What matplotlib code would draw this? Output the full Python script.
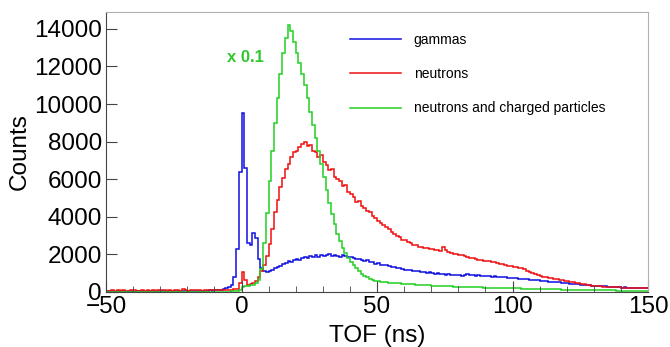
import numpy as np
import matplotlib
matplotlib.use('Agg')
import matplotlib.pyplot as plt
from matplotlib.ticker import MultipleLocator

plt.rcParams['font.family'] = ['Liberation Sans', 'DejaVu Sans']

# ---------------------------------------------------------------------------
# TOF histograms, 1 ns bins from -50 to 150 ns
BIN_LO, BIN_HI = -50, 150

gammas = [
    20, 10, 30, 10, 20, 0, 20, 10, 30, 20,                        # -50
    10, 20, 30, 20, 10, 20, 30, 20, 10, 30,                       # -40
    20, 30, 10, 20, 30, 20, 40, 20, 30, 20,                       # -30
    30, 40, 30, 40, 50, 40, 60, 50, 70, 60,                       # -20
    80, 90, 110, 140, 180, 250, 380, 800, 2300, 6400,             # -10
    9500, 6600, 2600, 2500, 3150, 2850, 1750, 1250, 1120, 1030,   # 0
    1080, 1150, 1240, 1330, 1390, 1480, 1540, 1620, 1590, 1700,   # 10
    1760, 1690, 1800, 1850, 1780, 1880, 1840, 1930, 1870, 1960,   # 20
    1890, 1950, 2000, 1900, 1970, 1910, 1860, 1940, 1880, 1830,   # 30
    1860, 1780, 1740, 1760, 1680, 1650, 1700, 1590, 1560, 1500,   # 40
    1520, 1440, 1400, 1420, 1350, 1310, 1290, 1250, 1270, 1200,   # 50
    1180, 1150, 1170, 1100, 1080, 1110, 1050, 1030, 1000, 1040,   # 60
    990, 960, 980, 930, 950, 900, 920, 880, 910, 870,             # 70
    890, 860, 900, 940, 910, 880, 850, 870, 830, 850,             # 80
    820, 840, 800, 810, 790, 770, 800, 760, 740, 750,             # 90
    720, 730, 690, 700, 670, 660, 640, 620, 630, 600,             # 100
    590, 570, 580, 540, 530, 520, 500, 490, 470, 460,             # 110
    450, 430, 420, 400, 390, 370, 360, 350, 330, 320,             # 120
    310, 300, 290, 280, 280, 260, 250, 250, 240, 230,             # 130
    220, 230, 210, 200, 210, 190, 180, 190, 170, 170,             # 140
]

neutrons = [
    60, 40, 80, 50, 70, 40, 90, 60, 50, 70,                       # -50
    80, 50, 60, 90, 40, 70, 60, 100, 50, 80,                      # -40
    70, 110, 60, 80, 50, 90, 70, 60, 120, 80,                     # -30
    60, 90, 70, 80, 100, 60, 80, 90, 70, 100,                     # -20
    80, 90, 70, 100, 90, 110, 100, 130, 160, 480,                 # -10
    1060, 640, 380, 400, 470, 560, 780, 1080, 1420, 1900,         # 0
    2550, 3350, 4250, 4900, 5600, 6050, 6550, 6800, 7150, 7450,   # 10
    7500, 7700, 7850, 7980, 7750, 7800, 7500, 7420, 7150, 7300,   # 20
    6900, 6750, 6500, 6550, 6100, 6000, 5880, 5650, 5700, 5300,   # 30
    5200, 5050, 4800, 4850, 4550, 4480, 4300, 4250, 4050, 3920,   # 40
    3780, 3650, 3550, 3420, 3350, 3180, 3100, 2950, 2900, 2780,   # 50
    2750, 2650, 2600, 2500, 2480, 2400, 2380, 2320, 2310, 2280,   # 60
    2300, 2240, 2210, 2190, 2380, 2210, 2130, 2080, 2030, 1990,   # 70
    1960, 1930, 1880, 1850, 1790, 1770, 1720, 1700, 1690, 1640,   # 80
    1660, 1620, 1590, 1600, 1540, 1500, 1460, 1420, 1380, 1350,   # 90
    1310, 1290, 1260, 1240, 1190, 1120, 1060, 990, 930, 890,      # 100
    850, 800, 780, 740, 730, 700, 680, 640, 610, 570,             # 110
    550, 520, 500, 470, 450, 410, 390, 360, 350, 320,             # 120
    300, 290, 280, 270, 260, 250, 250, 240, 230, 230,             # 130
    220, 220, 210, 200, 200, 190, 180, 180, 170, 170,             # 140
]

# already multiplied by 0.1
neutrons_charged = [
    0, 0, 0, 0, 0, 0, 0, 0, 0, 0,                                 # -50
    0, 0, 0, 0, 0, 0, 0, 0, 0, 0,                                 # -40
    0, 0, 0, 0, 0, 0, 0, 0, 0, 0,                                 # -30
    0, 0, 0, 0, 0, 0, 0, 10, 0, 0,                                # -20
    0, 0, 0, 10, 10, 10, 20, 30, 40, 110,                         # -10
    250, 280, 300, 330, 380, 450, 620, 1200, 2600, 4200,          # 0
    5900, 7500, 9000, 10300, 11600, 12700, 13500, 14200, 13900, 13300,  # 10
    12700, 12200, 11600, 11000, 10300, 9600, 8900, 8200, 7500, 6800,   # 20
    6100, 5400, 4750, 4150, 3600, 3100, 2700, 2350, 2050, 1800,   # 30
    1600, 1400, 1240, 1100, 960, 850, 760, 690, 630, 590,         # 40
    550, 530, 510, 490, 480, 470, 460, 450, 440, 430,             # 50
    420, 410, 400, 390, 380, 370, 360, 350, 340, 330,             # 60
    320, 315, 310, 300, 295, 290, 285, 280, 275, 270,             # 70
    265, 260, 255, 250, 245, 240, 235, 230, 225, 220,             # 80
    215, 210, 205, 200, 200, 195, 190, 185, 180, 180,             # 90
    175, 170, 170, 165, 160, 160, 155, 150, 150, 145,             # 100
    140, 140, 135, 130, 130, 125, 120, 120, 115, 110,             # 110
    110, 105, 100, 100, 95, 95, 90, 90, 85, 85,                   # 120
    80, 80, 75, 75, 70, 70, 65, 65, 60, 60,                       # 130
    60, 55, 55, 55, 50, 50, 50, 45, 45, 45,                       # 140
]

labels = ['gammas', 'neutrons', 'neutrons and charged particles']
colors = ['#1010e0', '#f01010', '#22d022']

# ---------------------------------------------------------------------------
edges = np.arange(BIN_LO, BIN_HI + 1, 1)

fig = plt.figure(figsize=(6.7, 3.47), dpi=100)
ax = fig.add_axes([0.1582, 0.1594, 0.809, 0.807])

for vals, lab, col in zip([gammas, neutrons, neutrons_charged], labels, colors):
    ax.stairs(vals, edges, color=col, lw=1.1, label=lab, baseline=None)

ax.set_xlim(-50, 150)
ax.set_ylim(0, 14920)
ax.xaxis.set_major_locator(MultipleLocator(50))
ax.xaxis.set_minor_locator(MultipleLocator(10))
ax.yaxis.set_major_locator(MultipleLocator(2000))
ax.tick_params(axis='both', which='both', direction='in', labelsize=17.5,
               color='#444444')
ax.tick_params(axis='both', which='major', length=8, pad=3)
ax.tick_params(axis='x', which='minor', length=4)
ax.set_xlabel('TOF (ns)', fontsize=17.5, labelpad=5)
ax.set_ylabel('Counts', fontsize=17.5, labelpad=2)

for s in ['top', 'right']:
    ax.spines[s].set_color('#b0b0b0')
for s in ['left', 'bottom']:
    ax.spines[s].set_color('#444444')

ax.text(-5.2, 12500, 'x 0.1', color='#2ec82e', fontsize=12, fontweight='bold',
        ha='left', va='center')

ax.legend(loc='upper left', bbox_to_anchor=(0.427, 0.968), frameon=False,
          fontsize=10, handlelength=3.7, handletextpad=0.9, labelspacing=1.45)

plt.savefig('out.png', dpi=100)
